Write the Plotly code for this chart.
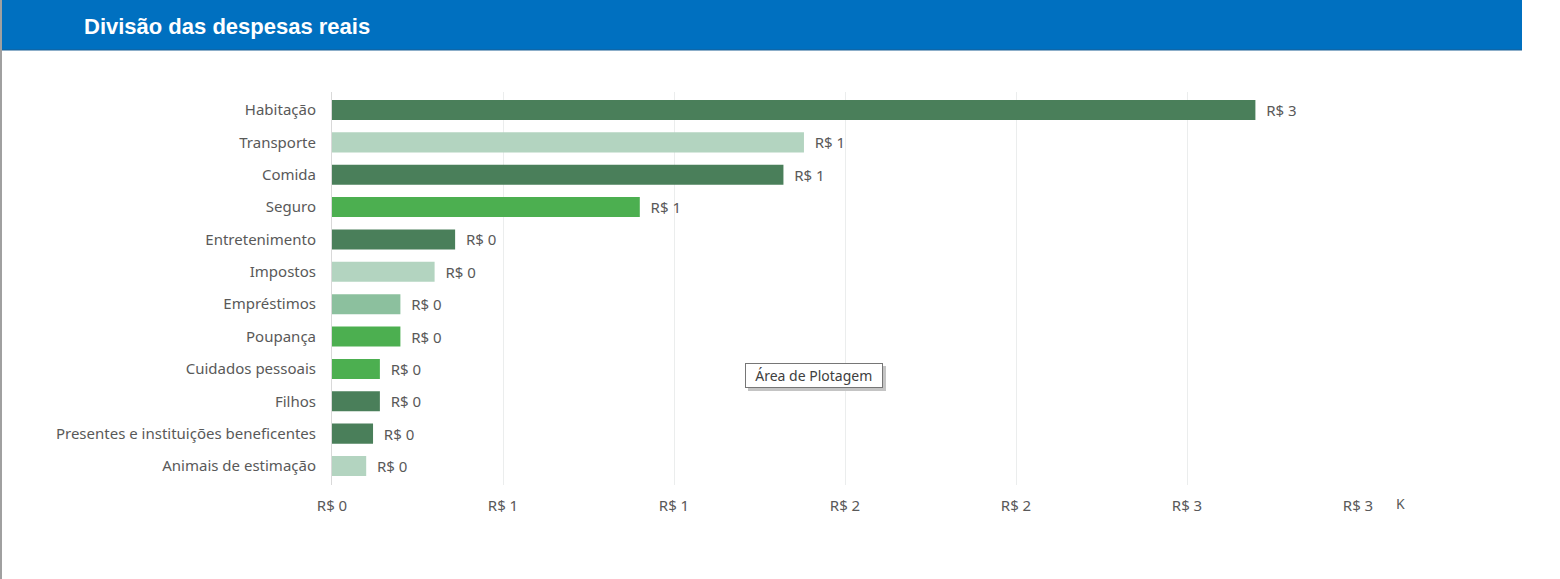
import plotly.graph_objects as go

# Categories and actual expenses (in thousands of R$)
categorias = [
    "Habitação", "Transporte", "Comida", "Seguro", "Entretenimento", "Impostos",
    "Empréstimos", "Poupança", "Cuidados pessoais", "Filhos",
    "Presentes e instituições beneficentes", "Animais de estimação",
]
despesas_k = [2.70, 1.38, 1.32, 0.90, 0.36, 0.30, 0.20, 0.20, 0.14, 0.14, 0.12, 0.10]

# bar colours (Excel-like green palette)
escuro, claro, medio, vivo = "#4A7F5A", "#B3D4C0", "#8CC09E", "#4CAF50"
cores = [escuro, claro, escuro, vivo, escuro, claro, medio, vivo, vivo, escuro, escuro, claro]

PW, PH = 1560, 579       # page size
L, R, T, B = 332, 1358, 92, 485  # plot area in page pixels
FONT = "Noto Sans"
GREY = "#595959"


def px(x):
    return (x - L) / (R - L)


def py(y):
    return (B - y) / (B - T)


fig = go.Figure()
fig.add_trace(go.Bar(
    y=categorias,
    x=despesas_k,
    orientation="h",
    marker=dict(color=cores, line=dict(width=0)),
    width=0.62,
    texttemplate="\u00a0\u00a0R$ %{x:.0f}",
    textposition="outside",
    textfont=dict(size=15, color=GREY, family=FONT),
    cliponaxis=False,
    showlegend=False,
))

# header band and left border
fig.add_shape(type="rect", xref="paper", yref="paper",
              x0=px(2), x1=px(1522), y0=py(50), y1=py(0),
              fillcolor="#0070C0", line=dict(width=0), layer="below")
fig.add_shape(type="line", xref="paper", yref="paper",
              x0=px(2), x1=px(1522), y0=py(50), y1=py(50),
              line=dict(color="#1A5E94", width=1))
fig.add_shape(type="line", xref="paper", yref="paper",
              x0=px(1), x1=px(1), y0=py(PH), y1=py(0),
              line=dict(color="#A0A0A0", width=2))

# display unit
fig.add_annotation(text="K", xref="paper", yref="paper", x=px(1400), y=py(503),
                   xanchor="center", yanchor="middle",
                   showarrow=False, font=dict(size=14, color=GREY, family=FONT))

# Excel tooltip with shadow
tip = "\u00a0\u00a0Área de Plotagem\u00a0\u00a0"
fig.add_annotation(text=tip, xref="paper", yref="paper",
                   x=px(817), y=py(378), xanchor="center", yanchor="middle", showarrow=False,
                   font=dict(size=14, color="rgba(0,0,0,0)", family=FONT),
                   bgcolor="#C4C4C4", borderpad=2, borderwidth=1, bordercolor="#C4C4C4")
fig.add_annotation(text=tip, xref="paper", yref="paper",
                   x=px(814), y=py(375), xanchor="center", yanchor="middle", showarrow=False,
                   font=dict(size=14, color="#404040", family=FONT),
                   bgcolor="white", borderpad=2, borderwidth=1, bordercolor="#767676")

fig.update_layout(
    width=PW, height=PH,
    margin=dict(l=L, r=PW - R, t=T, b=PH - B),
    paper_bgcolor="white",
    plot_bgcolor="white",
    title=dict(text="<b>Divisão das despesas reais</b>", xref="container", yref="container",
               x=84 / PW, y=1 - 26 / PH, xanchor="left", yanchor="middle",
               font=dict(size=22, color="white", family="Liberation Sans")),
)
fig.update_xaxes(
    range=[0, 3.0], dtick=0.5, tickprefix="R$ ", tickformat=".0f",
    showgrid=True, gridcolor="#EBEDED", gridwidth=1, zeroline=False,
    ticks="outside", ticklen=7, tickcolor="rgba(0,0,0,0)",
    tickfont=dict(size=15, color=GREY, family=FONT),
    fixedrange=True,
)
fig.update_yaxes(
    type="category", categoryorder="array", categoryarray=categorias,
    range=[11.587, -0.556],
    showline=True, linecolor="#D9D9D9", linewidth=1,
    ticks="outside", ticklen=12, tickcolor="rgba(0,0,0,0)",
    tickfont=dict(size=15, color=GREY, family=FONT),
    fixedrange=True,
)

fig.write_html("out.html", config={"displayModeBar": False},
               post_script="document.body.style.margin='0';")
